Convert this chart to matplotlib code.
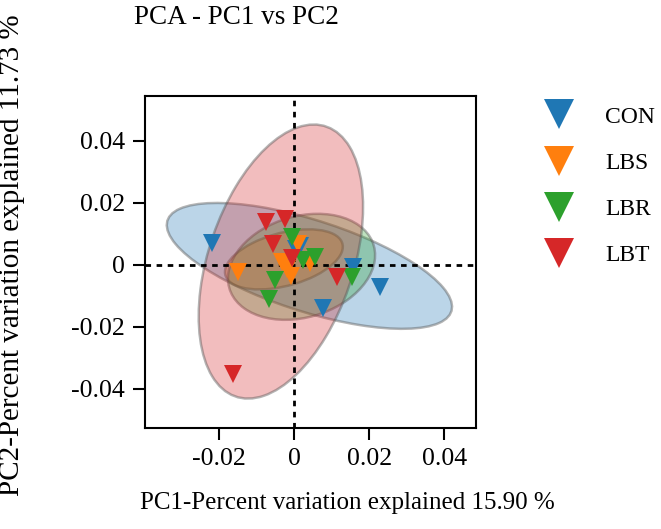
"""PCA scatter (PC1 vs PC2) with group ellipses."""

import matplotlib.pyplot as plt
import matplotlib.transforms as transforms
import numpy as np
from matplotlib.colors import to_rgba
from matplotlib.lines import Line2D
from matplotlib.patches import Ellipse

plt.rcParams["font.family"] = ["Liberation Serif", "DejaVu Serif"]
plt.rcParams["axes.unicode_minus"] = False

groups = ["CON", "LBS", "LBR", "LBT"]
colors = ["#1f77b4", "#ff7f0e", "#2ca02c", "#d62728"]

# sample scores (PC1, PC2) per group
con_pc1 = [-0.0219, 0.0158, 0.0228, 0.0078, 0.0016, 0.0004]
con_pc2 = [0.0070, -0.0005, -0.0070, -0.0140, 0.0060, 0.0050]
lbs_pc1 = [-0.0149, 0.0043, -0.0033, -0.0008, 0.0010, -0.0020]
lbs_pc2 = [-0.0022, 0.0005, 0.0008, -0.0035, 0.0068, -0.0012]
lbr_pc1 = [-0.0006, 0.0056, 0.0025, -0.0051, 0.0154, -0.0067]
lbr_pc2 = [0.0091, 0.0027, 0.0016, -0.0048, -0.0038, -0.0110]
lbt_pc1 = [-0.0075, -0.0024, -0.0055, -0.0006, 0.0114, -0.0162]
lbt_pc2 = [0.0140, 0.0148, 0.0068, 0.0022, -0.0038, -0.0352]

# ellipse: centre, half extent along PC1 / PC2, correlation
ell_cx = [0.0041, -0.0027, 0.0020, -0.0035]
ell_cy = [-0.0003, 0.0018, -0.0006, 0.0011]
ell_hx = [0.0380, 0.0157, 0.0196, 0.0219]
ell_hy = [0.0203, 0.0097, 0.0171, 0.0442]
ell_rho = [-0.65, 0.42, 0.22, 0.40]

x_ticks = [-0.02, 0, 0.02, 0.04]
x_tick_labels = ["-0.02", "0", "0.02", "0.04"]
y_ticks = [-0.04, -0.02, 0, 0.02, 0.04]
y_tick_labels = ["-0.04", "-0.02", "0", "0.02", "0.04"]

pc1 = [con_pc1, lbs_pc1, lbr_pc1, lbt_pc1]
pc2 = [con_pc2, lbs_pc2, lbr_pc2, lbt_pc2]


def add_ellipse(ax, cx, cy, hx, hy, rho, color):
    ell = Ellipse(
        (0, 0),
        width=2 * np.sqrt(1 + rho),
        height=2 * np.sqrt(1 - rho),
        facecolor=to_rgba(color, 0.3),
        edgecolor=(0.35, 0.35, 0.35, 0.45),
        linewidth=1.8,
        zorder=1,
    )
    tf = transforms.Affine2D().rotate_deg(45).scale(hx, hy).translate(cx, cy)
    ell.set_transform(tf + ax.transData)
    ax.add_patch(ell)


fig = plt.figure(figsize=(6.61, 5.29), dpi=100)
ax = fig.add_axes([0.2194, 0.1909, 0.5008, 0.6276])

for i, color in enumerate(colors):
    add_ellipse(ax, ell_cx[i], ell_cy[i], ell_hx[i], ell_hy[i], ell_rho[i], color)

ax.axhline(0, color="black", linestyle=(0, (2, 2)), linewidth=2, zorder=2)
ax.axvline(0, color="black", linestyle=(0, (2, 2)), linewidth=2, zorder=2)

handles = []
for i, name in enumerate(groups):
    ax.plot(pc1[i], pc2[i], linestyle="none", marker="v", markersize=13,
            color=colors[i], markeredgewidth=0, zorder=3)
    handles.append(Line2D([], [], linestyle="none", marker="v", markersize=21,
                          color=colors[i], markeredgewidth=0))

ax.set_xlim(-0.0397, 0.0485)
ax.set_ylim(-0.0526, 0.0545)
ax.set_xticks(x_ticks)
ax.set_xticklabels(x_tick_labels)
ax.set_yticks(y_ticks)
ax.set_yticklabels(y_tick_labels)
ax.tick_params(direction="out", length=8.5, width=1.5, labelsize=18.5, pad=6)
for spine in ax.spines.values():
    spine.set_linewidth(1.5)

fig.text(236 / 661, 1 - 18 / 529, "PCA - PC1 vs PC2", ha="center", va="center", fontsize=19.5)
fig.text(347 / 661, 1 - 503 / 529, "PC1-Percent variation explained 15.90 %",
         ha="center", va="center", fontsize=18)
fig.text(12 / 661, 1 - 255 / 529, "PC2-Percent variation explained 11.73 %",
         ha="center", va="center", rotation=90, fontsize=21)

fig.legend(handles, groups, loc="upper left", bbox_to_anchor=(545 / 661, 1 - 106 / 529),
           frameon=False, fontsize=17, handlelength=1.2, handletextpad=1.35,
           labelspacing=1.05, borderpad=0, borderaxespad=0)

fig.savefig("out.png", dpi=100)
